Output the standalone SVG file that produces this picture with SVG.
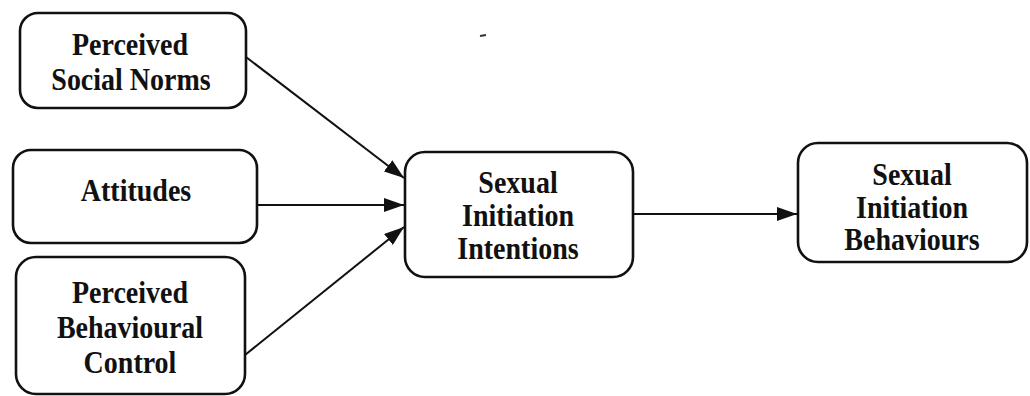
<svg xmlns="http://www.w3.org/2000/svg" width="1030" height="396" viewBox="0 0 1030 396">
<style>
.box{fill:#fff;stroke:#111;stroke-width:2.6}
.t{font-family:"Liberation Serif","Times New Roman",serif;font-weight:bold;font-size:28px;fill:#111;text-anchor:middle}
.c{stroke:#111;stroke-width:2;fill:none}
</style>
<defs>
<marker id="ah" viewBox="0 0 20 14" refX="20" refY="7" markerWidth="20" markerHeight="14" markerUnits="userSpaceOnUse" orient="auto">
<path d="M0,0 L20,7 L0,14 Z" fill="#111"/>
</marker>
</defs>
<rect width="1030" height="396" fill="#fff"/>
<g id="connectors">
<path class="c" d="M246,57 L404,178" marker-end="url(#ah)"/>
<path class="c" d="M257,205 L404,205" marker-end="url(#ah)"/>
<path class="c" d="M245,355 L404,227" marker-end="url(#ah)"/>
<path class="c" d="M633,214 L797,214" marker-end="url(#ah)"/>
</g>
<g id="norms">
<rect class="box" x="20" y="13" width="226" height="95" rx="18"/>
<text class="t" transform="translate(130,55) scale(1,1.1)">Perceived</text>
<text class="t" transform="translate(131,90) scale(1,1.1)">Social Norms</text>
</g>
<g id="attitudes">
<rect class="box" x="13" y="150" width="244" height="93" rx="18"/>
<text class="t" transform="translate(136,201) scale(1,1.1)">Attitudes</text>
</g>
<g id="pbc">
<rect class="box" x="16" y="257" width="229" height="137" rx="20"/>
<text class="t" transform="translate(130,303) scale(1,1.1)">Perceived</text>
<text class="t" transform="translate(130,338) scale(1,1.1)">Behavioural</text>
<text class="t" transform="translate(130,373) scale(1,1.1)">Control</text>
</g>
<g id="intentions">
<rect class="box" x="405" y="152" width="228" height="125" rx="20"/>
<text class="t" transform="translate(518,193) scale(1,1.1)">Sexual</text>
<text class="t" transform="translate(518,226) scale(1,1.1)">Initiation</text>
<text class="t" transform="translate(518,259) scale(1,1.1)">Intentions</text>
</g>
<g id="behaviours">
<rect class="box" x="798" y="143" width="229" height="119" rx="20"/>
<text class="t" transform="translate(912,185) scale(1,1.1)">Sexual</text>
<text class="t" transform="translate(912,218) scale(1,1.1)">Initiation</text>
<text class="t" transform="translate(912,250) scale(1,1.1)">Behaviours</text>
</g>
<path d="M480,36 L486,35" stroke="#333" stroke-width="2"/>
</svg>
